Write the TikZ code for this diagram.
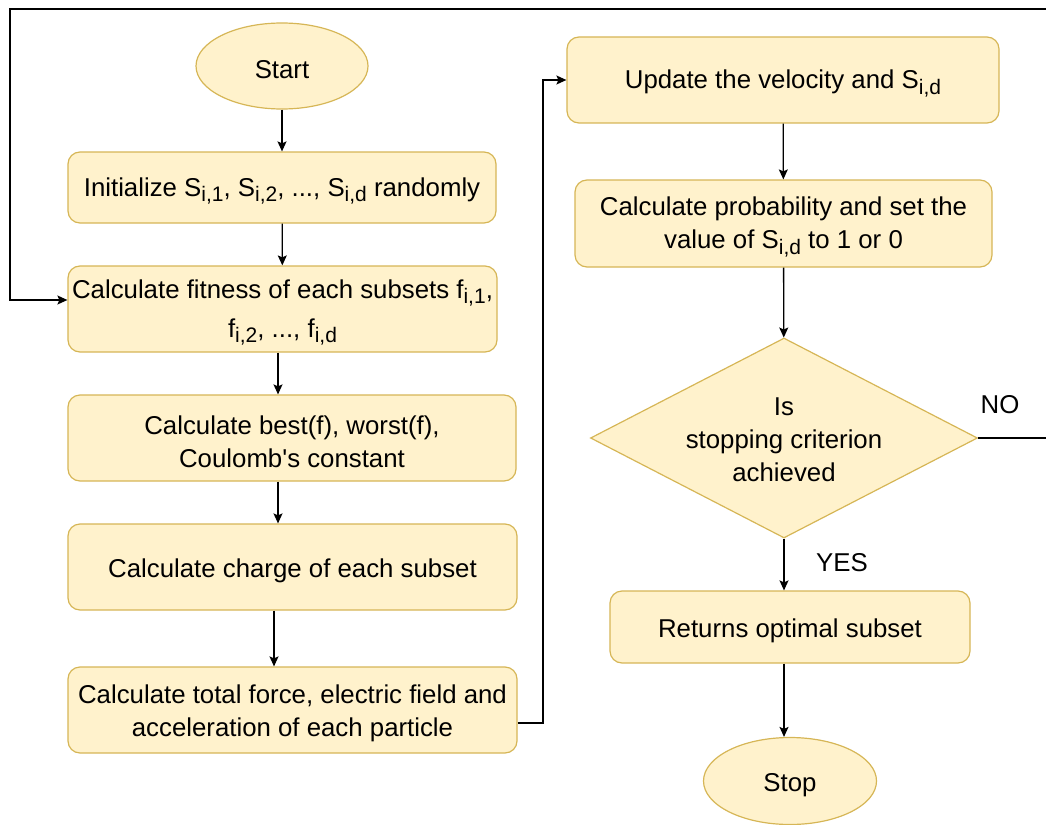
\documentclass[tikz,border=0pt]{standalone}
\usepackage{fontspec}
\setmainfont{Liberation Sans}
\usetikzlibrary{shapes.geometric,arrows.meta}
\definecolor{boxfill}{HTML}{FFF2CC}
\definecolor{boxline}{HTML}{D6B656}
% lowered, slightly smaller index text
\newcommand\ssub[1]{\raisebox{-5.5pt}{\fontsize{21}{21}\selectfont #1}}
% tall strut: sets a box's text a little below its centre
\newcommand\lift{\rule{0pt}{25.8pt}}

\begin{document}
\begin{tikzpicture}[x=1pt,y=-1pt,
  every node/.style={font=\fontsize{25.8}{33}\selectfont, align=center, inner sep=0pt},
  stepbox/.style={draw=boxline, fill=boxfill, rounded corners=12pt, line width=1.2pt},
  term/.style={ellipse, draw=boxline, fill=boxfill, line width=1.2pt},
  dmd/.style={diamond, draw=boxline, fill=boxfill, line width=1.2pt},
  arr/.style={draw=black, line width=1.3pt, -{Stealth[length=10pt,width=9pt,inset=2pt]}}]
\useasboundingbox (0,0) rectangle (1046,824);

% left column
\node[term, minimum width=172pt, minimum height=86pt] (start) at (282,66) {\lift Start};
\node[stepbox, minimum width=428pt, minimum height=71pt] (init) at (282,187.5)
  {\lift Initialize S\ssub{i,1}, S\ssub{i,2}, ..., S\ssub{i,d} randomly};
\node[stepbox, minimum width=429pt, minimum height=86pt] (fit) at (282.5,309)
  {\lift Calculate fitness of each subsets f\ssub{i,1},\\[6pt]f\ssub{i,2}, ..., f\ssub{i,d}};
\node[stepbox, minimum width=448pt, minimum height=86pt] (best) at (292,438)
  {\lift Calculate best(f), worst(f),\\Coulomb\textquotesingle s constant};
\node[stepbox, minimum width=449pt, minimum height=86pt] (charge) at (292.5,567)
  {\lift Calculate charge of each subset};
\node[stepbox, minimum width=449pt, minimum height=86pt] (force) at (292.5,710)
  {\lift Calculate total force, electric field and\\acceleration of each particle};

% right column
\node[stepbox, minimum width=432pt, minimum height=86pt] (upd) at (783,80)
  {\lift Update the velocity and S\ssub{i,d}};
\node[stepbox, minimum width=417pt, minimum height=87pt] (prob) at (783.5,223.5)
  {\lift Calculate probability and set the\\value of S\ssub{i,d} to 1 or 0};
\node[dmd, minimum width=387pt, minimum height=200pt] (dec) at (784,438) {};
\node (dectext) at (784,440) {Is\\stopping criterion\\achieved};
\node[stepbox, minimum width=360pt, minimum height=72pt] (ret) at (790,627)
  {\lift Returns optimal subset};
\node[term, minimum width=173pt, minimum height=87pt] (stop) at (790,781) {\lift Stop};

\node (no) at (1000,405) {NO};
\node (yes) at (842,563) {YES};

% connectors
\draw[arr] (start) -- (init);
\draw[arr] (init) -- (fit);
\draw[arr] (278,0 |- fit.south) -- (278,0 |- best.north);
\draw[arr] (278,0 |- best.south) -- (278,0 |- charge.north);
\draw[arr] (274,0 |- charge.south) -- (274,0 |- force.north);
\draw[arr] (force.east |- 0,723) -| (543,0 |- upd.west) -- (upd.west);
\draw[arr] (upd) -- (prob);
\draw[arr] (prob) -- (dec);
\draw[arr] (dec.south) -- (dec.south |- ret.north);
\draw[arr] (ret.south -| dec.south) -- (stop.north -| dec.south);
\draw[arr] (dec.east) -- (1047,0 |- dec.east) |- (10,9) |- ([yshift=9pt]fit.west);
\end{tikzpicture}
\end{document}
